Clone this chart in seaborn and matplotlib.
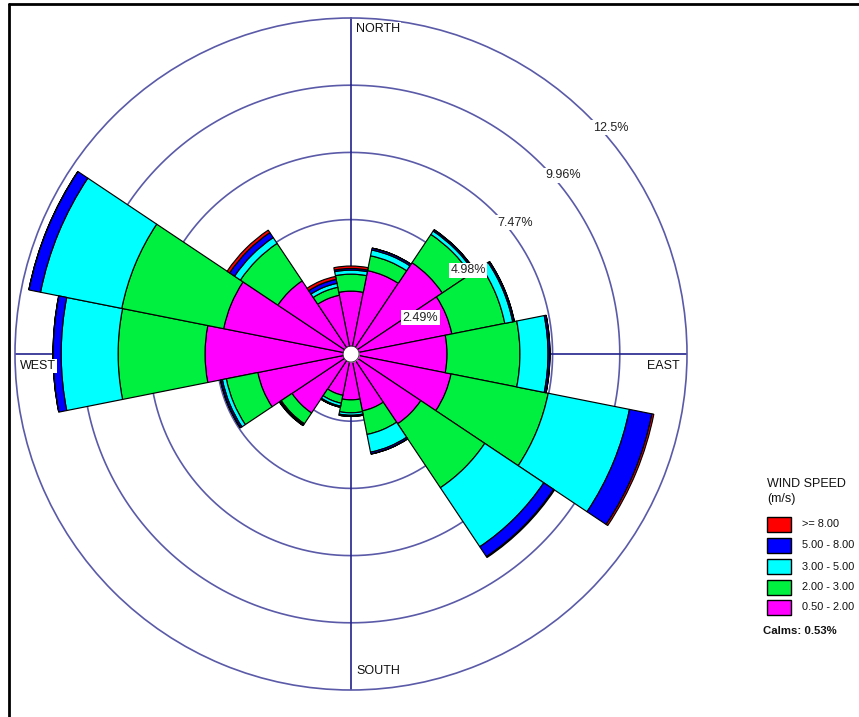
import numpy as np
import matplotlib
matplotlib.use("Agg")
import matplotlib.pyplot as plt
from matplotlib.patches import Rectangle
from matplotlib.lines import Line2D
import seaborn as sns

# Frequency (%) of each wind-speed class per direction sector
directions = ["N", "NNE", "NE", "ENE", "E", "ESE", "SE", "SSE",
              "S", "SSW", "SW", "WSW", "W", "WNW", "NW", "NNW"]
speed_050_200 = [2.33, 3.15, 4.07, 3.81, 3.56, 3.78, 3.11, 2.15,
                 1.70, 1.56, 2.63, 3.52, 5.41, 4.81, 3.26, 2.22]
speed_200_300 = [0.63, 0.56, 1.26, 2.00, 2.70, 3.67, 2.85, 0.89,
                 0.48, 0.30, 0.48, 1.19, 3.22, 3.85, 1.67, 0.30]
speed_300_500 = [0.15, 0.22, 0.15, 0.30, 1.04, 3.07, 2.63, 0.67,
                 0.09, 0.11, 0.04, 0.15, 2.11, 3.07, 0.26, 0.15]
speed_500_800 = [0.06, 0.07, 0.06, 0.06, 0.07, 0.85, 0.44, 0.07,
                 0.04, 0.04, 0.04, 0.07, 0.30, 0.44, 0.22, 0.15]
speed_ge_800 = [0.09, 0.00, 0.00, 0.00, 0.00, 0.07, 0.04, 0.00,
                0.00, 0.00, 0.00, 0.00, 0.00, 0.00, 0.11, 0.11]

class_labels = ["0.50 - 2.00", "2.00 - 3.00", "3.00 - 5.00", "5.00 - 8.00", ">= 8.00"]
class_colors = ["#FF00FF", "#00F040", "#00FFFF", "#0000FF", "#FF0000"]

ring_values = [2.49, 4.98, 7.47, 9.96, 12.45]
ring_labels = ["2.49%", "4.98%", "7.47%", "9.96%", "12.5%"]
calms_text = "Calms: 0.53%"

sns.set_theme(style="white")
plt.rcParams["font.family"] = ["Liberation Sans", "DejaVu Sans"]
palette = sns.color_palette(class_colors)

W, H = 859, 717
fig = plt.figure(figsize=(W / 100, H / 100), dpi=100)
fig.patch.set_facecolor("white")

R = 336  # pixel radius of the outer ring
cx, cy = 351, 354
ax = fig.add_axes([(cx - R) / W, (H - cy - R) / H, 2 * R / W, 2 * R / H],
                  projection="polar")
ax.set_theta_zero_location("N")
ax.set_theta_direction(-1)
ax.set_ylim(0, ring_values[-1])
ax.set_xticks([])
ax.set_yticks([])
ax.grid(False)
ax.set_facecolor("none")

ring_color = "#5A5AA8"
axis_color = "#22228C"
ax.spines["polar"].set_color(ring_color)
ax.spines["polar"].set_linewidth(1.2)

full = np.linspace(0, 2 * np.pi, 721)
for r in ring_values[:-1]:
    ax.plot(full, np.full_like(full, r), color=ring_color, lw=1.2, zorder=1)

# compass cross
rmax = ring_values[-1]
for ang in [0, 90, 180, 270]:
    ax.plot([np.deg2rad(ang)] * 2, [0, rmax], color=axis_color, lw=1.2, zorder=1)

# stacked sectors
theta = np.deg2rad(np.arange(len(directions)) * 22.5)
width = np.deg2rad(22.5)
bottom = np.zeros(len(directions))
series = [speed_050_200, speed_200_300, speed_300_500, speed_500_800, speed_ge_800]
for vals, col in zip(series, palette):
    vals = np.asarray(vals)
    ax.bar(theta, vals, width=width, bottom=bottom, color=col,
           edgecolor="black", linewidth=0.85, zorder=3, align="center")
    bottom += vals

# calm circle in the middle
calm_r = 0.30
ax.fill_between(full, 0, calm_r, color="white", zorder=5, lw=0)
ax.plot(full, np.full_like(full, calm_r), color="#333333", lw=0.7, zorder=6)

# ring labels along the north-east diagonal
px2pt = 0.72
for r, lab in zip(ring_values, ring_labels):
    ax.annotate(lab, xy=(np.deg2rad(45), r), xycoords="data",
                xytext=(22 * px2pt, -11.5 * px2pt), textcoords="offset points",
                ha="center", va="center", fontsize=9, color="#222222", zorder=8,
                bbox=dict(boxstyle="square,pad=0.12", fc="white", ec="none"))

# compass labels
lab_kw = dict(xycoords="data", textcoords="offset points", fontsize=9,
              color="#111111", zorder=8, va="center",
              bbox=dict(boxstyle="square,pad=0.1", fc="white", ec="none"))
ax.annotate("NORTH", xy=(0, rmax), xytext=(5 * px2pt, -11 * px2pt), ha="left", **lab_kw)
ax.annotate("SOUTH", xy=(np.pi, rmax), xytext=(5 * px2pt, 19 * px2pt), ha="left", **lab_kw)
ax.annotate("WEST", xy=(1.5 * np.pi, rmax), xytext=(5 * px2pt, -12 * px2pt), ha="left", **lab_kw)
ax.annotate("EAST", xy=(0.5 * np.pi, rmax), xytext=(-7 * px2pt, -12 * px2pt), ha="right", **lab_kw)

# legend block
def fx(x):
    return x / W

def fy(y):
    return 1 - y / H

fig.text(fx(767), fy(484), "WIND SPEED", fontsize=9, va="center", ha="left", color="#111111")
fig.text(fx(767), fy(499), "(m/s)", fontsize=9, va="center", ha="left", color="#111111")
rows_y = [524, 545.5, 566.5, 587.5, 607]
for yy, lab, col in zip(rows_y, class_labels[::-1], list(palette)[::-1]):
    fig.add_artist(Rectangle((fx(767), fy(yy + 7.5)), 24 / W, 15 / H,
                             transform=fig.transFigure, facecolor=col,
                             edgecolor="black", lw=1))
    fig.text(fx(802), fy(yy), lab, fontsize=7.9, va="center", ha="left", color="#111111")
fig.text(fx(763), fy(631), calms_text, fontsize=8.2, va="center", ha="left",
         color="#111111", fontweight="bold")

# page frame
fig.add_artist(Line2D([fx(9), fx(9)], [fy(4), fy(720)], transform=fig.transFigure,
                      color="black", lw=2))
fig.add_artist(Line2D([fx(9), fx(862)], [fy(4), fy(4)], transform=fig.transFigure,
                      color="black", lw=2))

fig.savefig("out.png", dpi=100, facecolor="white")
